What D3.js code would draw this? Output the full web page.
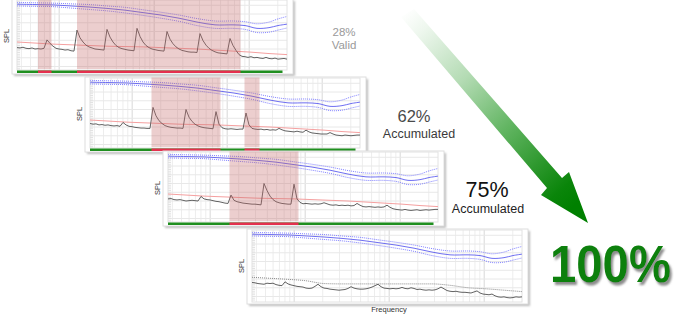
<!DOCTYPE html>
<html>
<head>
<meta charset="utf-8">
<script src="https://cdn.jsdelivr.net/npm/d3@7"></script>
<style>
  body { margin: 0; background: #fff; }
  svg { display: block; font-family: "Liberation Sans", Arial, sans-serif; }
</style>
</head>
<body>
<svg id="chart" width="700" height="326"></svg>
<script>
// ---- measurement data -------------------------------------------------
// Frequency span of every plot (Hz, log axis) and the sample index range.
const freqSpan = [36, 25000];
const sampleSpan = [0, 90];
const levelSpan = [0, 100];
const levelGrid = [5, 17.5, 30, 42.5, 55, 67.5, 80, 92.5];

// Response curve (blue): knots, with upper / lower bounds (dotted).
const respIdx = [0, 6, 12, 18, 24, 30, 36, 42, 48, 54, 60, 66, 72, 76, 80, 84, 87, 90];
const respMid = [94, 93.5, 93, 91.5, 90, 88, 85.5, 82, 78.5, 74, 68.5, 64.5, 64.5, 63.5, 59.5, 60.5, 63.5, 65.5];
const respHi  = [96.5, 96, 95.5, 94.5, 93.5, 91.5, 89.5, 86, 82.5, 78.5, 73.5, 70, 70, 69, 66, 68.5, 73, 76.5];
const respLo  = [91.5, 91, 90.5, 88.5, 86.5, 84.5, 81.5, 78, 74, 69.5, 63.5, 59.5, 59.5, 58, 53.5, 54, 57, 60];

// Noise threshold (pink) and the final reference (grey dotted).
const refIdx = [0, 6, 12, 18, 24, 30, 36, 42, 48, 54, 60, 66, 72, 78, 84, 90];
const threshold = [40, 38.5, 37, 36, 35, 34, 33.5, 33, 32, 31, 30, 28.5, 27, 25.5, 23.5, 22];
const finalRef = [32.5, 31, 29.5, 27.5, 23.5, 23, 23, 23, 23, 23, 23, 21, 17.5, 16, 14, 12];

// Background noise per pass (black), one value per sample.
const noisePass1 = [32, 31.5, 32.5, 31, 30.5, 31.5, 30, 30.5, 30, 31,
  43, 38, 34, 31, 30, 29.5, 28.5, 29, 27.5, 27,
  57, 46, 40, 35.5, 33, 31.5, 30, 29.5, 29, 28.5,
  58, 47, 40, 35, 32, 30.5, 29.5, 28.5, 28, 27.5,
  59.5, 48, 40, 35, 32, 30, 29, 28, 27.5, 27,
  55, 44, 37.5, 33, 30, 28, 27, 26, 25.5, 25.5, 25,
  52, 42, 35.5, 31, 28, 26, 24.5, 24, 23.5, 23,
  45, 35, 28, 22, 19.5, 19, 18, 19, 17.5, 18, 17, 16.5, 18, 16.5, 16, 17, 15.5, 16, 16.5, 15.5];
const noisePass2 = [35, 34, 34.5, 33, 33.5, 32.5, 33, 32, 31.5, 32, 31,
  36.5, 33, 31, 30.5, 29.5, 29, 28.5, 28.5, 28, 28,
  58, 46, 39, 35, 32, 30.5, 29.5, 29, 28.5, 28.5, 28,
  55, 44, 38, 34, 31.5, 30, 29, 28.5, 28, 27.5,
  52, 34, 29, 27.5, 27, 27.5, 27, 26.5, 27, 27,
  50, 33, 28, 27, 26.5, 27, 26, 26.5, 25.5, 26, 25.5, 28, 26, 24.5, 24, 23.5, 23, 24, 23, 22.5,
  25.5, 23, 21.5, 21, 20.5, 20, 20, 20, 22, 20, 18.5, 18, 17.5, 18.5, 18, 17.5, 18, 18.5, 18.5];
const noisePass3 = [33, 33.5, 32, 31.5, 32, 31, 30, 30.5, 31, 30.5, 30,
  36.5, 33, 32, 31.5, 30.5, 29.5, 29, 28, 27, 26.5,
  38.5, 31, 29, 28, 27, 26.5, 26, 25.5, 25.5, 25, 24.5,
  55, 45, 37, 32, 29, 27.5, 26.5, 26, 25.5, 25.5,
  54, 33, 28, 26, 26.5, 26, 25.5, 26, 25.5, 26,
  27.5, 26, 24.5, 24, 24.5, 23.5, 24, 23.5, 24, 23, 23.5, 26.5, 24, 22, 21.5, 22, 21.5, 21, 21.5, 21,
  21.5, 24, 21, 19, 18, 17.5, 17, 18, 17, 16.5, 17, 17.5, 16.5, 17, 17.5, 17, 17.5, 18, 18];
const noiseFinal = [25, 24.5, 23.5, 23, 22.5, 24, 23.5, 24, 22, 21, 20.5,
  26, 23, 21.5, 20.5, 19.5, 19, 18.5, 17, 16.5, 17,
  19.5, 22.5, 19, 17, 16.5, 15.5, 15, 14.5, 14, 14.5, 15,
  16.5, 19, 17, 16, 15.5, 15.5, 16, 17, 18.5, 20.5,
  22.5, 19, 17, 16.5, 16, 16.5, 16, 16.5, 18, 16.5,
  16, 17.5, 16.5, 15, 15.5, 14.5, 14, 14.5, 14, 14.5, 16, 18.5, 16, 13.5, 12.5, 12, 12.5, 11.5, 11, 11,
  10.5, 10, 11.5, 13, 10, 8.5, 8, 7.5, 8.5, 6, 4.5, 4, 4.5, 3.5, 3, 3.5, 4.5, 4, 4.5];

// Sample ranges flagged as disturbed in each pass.
const disturbed1 = [[7, 11.5], [20, 74.5]];
const disturbed2 = [[20.5, 43.5], [51.5, 56.5]];
const disturbed3 = [[20.5, 43.5]];
const flagSpan = [0, 88.5];

// Share of usable data after each pass.
const shareLabels = ["28%", "62%", "75%", "100%"];
const shareNotes = ["Valid", "Accumulated", "Accumulated", ""];

// ---- layout -----------------------------------------------------------
const svg = d3.select("#chart");
const boxW = 281, boxH = 75;

const panels = [
  { x: 12,  y: -1,  noise: noisePass1, ref: threshold, bad: disturbed1, flags: true },
  { x: 85,  y: 77,  noise: noisePass2, ref: threshold, bad: disturbed2, flags: true },
  { x: 163, y: 151, noise: noisePass3, ref: threshold, bad: disturbed3, flags: true },
  { x: 247, y: 229, noise: noiseFinal, ref: finalRef,  bad: [],         flags: false }
];

const xi = d3.scaleLinear().domain(sampleSpan).range([5, 275]);
const xf = d3.scaleLog().domain(freqSpan).range([5, 275]);
const y = d3.scaleLinear().domain(levelSpan).range([71, 1]);

const defs = svg.append("defs");
const blur = defs.append("filter").attr("id", "soft").attr("x", "-10%").attr("y", "-10%")
  .attr("width", "130%").attr("height", "140%");
blur.append("feGaussianBlur").attr("stdDeviation", 1);

panels.forEach(p => {
  const g = svg.append("g").attr("transform", `translate(${p.x},${p.y})`);
  const plotBottom = p.flags ? 71 : 73;

  // frame with drop shadow
  g.append("rect").attr("x", 2).attr("y", 2).attr("width", boxW).attr("height", boxH)
    .attr("fill", "#bdbdbd").attr("filter", "url(#soft)");
  g.append("rect").attr("width", boxW).attr("height", boxH)
    .attr("fill", "#fff").attr("stroke", "#dedede").attr("stroke-width", 1);

  // grid
  const fTicks = xf.ticks();
  g.append("g").selectAll("line").data(fTicks).join("line")
    .attr("x1", d => xf(d)).attr("x2", d => xf(d))
    .attr("y1", 1).attr("y2", plotBottom)
    .attr("stroke", d => Math.abs(Math.log10(d) % 1) < 1e-6 ? "#d8d8d8" : "#ededed")
    .attr("stroke-width", 1);
  g.append("g").selectAll("line").data(levelGrid).join("line")
    .attr("x1", 5).attr("x2", 275)
    .attr("y1", d => y(d)).attr("y2", d => y(d))
    .attr("stroke", "#e8e8e8");
  g.append("g").selectAll("line").data(d3.range(0, 100, 2.5)).join("line")
    .attr("x1", 5).attr("x2", 8)
    .attr("y1", d => y(d)).attr("y2", d => y(d))
    .attr("stroke", "#e2e2e2");
  g.append("rect").attr("x", 5).attr("y", 1).attr("width", 270).attr("height", plotBottom - 1)
    .attr("fill", "none").attr("stroke", "#e2e2e2");

  // response band
  const resp = arr => d3.line().curve(d3.curveCatmullRom)
    .x((d, i) => xi(respIdx[i])).y(d => y(d))(arr);
  g.append("path").attr("d", resp(respHi)).attr("fill", "none")
    .attr("stroke", "#8080ff").attr("stroke-width", 1).attr("stroke-dasharray", "1,1");
  g.append("path").attr("d", resp(respLo)).attr("fill", "none")
    .attr("stroke", "#8080ff").attr("stroke-width", 1).attr("stroke-dasharray", "1,1");
  g.append("path").attr("d", resp(respMid)).attr("fill", "none")
    .attr("stroke", "#5555ee").attr("stroke-width", 1).attr("stroke-opacity", 0.85);

  // threshold / reference
  const refLine = d3.line().curve(d3.curveMonotoneX)
    .x((d, i) => xi(refIdx[i])).y(d => y(d));
  g.append("path").attr("d", refLine(p.ref)).attr("fill", "none")
    .attr("stroke", p.flags ? "#f5a0a0" : "#8a8a8a")
    .attr("stroke-width", 1)
    .attr("stroke-dasharray", p.flags ? null : "1,1");

  // noise trace
  const noiseLine = d3.line().x((d, i) => xi(i)).y(d => y(d));
  g.append("path").attr("d", noiseLine(p.noise)).attr("fill", "none")
    .attr("stroke", "#505050").attr("stroke-width", 0.9);

  // disturbed regions, laid over the traces
  g.append("g").selectAll("rect").data(p.bad).join("rect")
    .attr("x", d => xi(d[0])).attr("width", d => xi(d[1]) - xi(d[0]))
    .attr("y", 0.5).attr("height", 69.5)
    .attr("fill", "#c46a6a").attr("fill-opacity", 0.33);

  // validity bar
  if (p.flags) {
    g.append("rect").attr("x", xi(flagSpan[0])).attr("width", xi(flagSpan[1]) - xi(flagSpan[0]))
      .attr("y", 71.5).attr("height", 2.5).attr("fill", "#1f8f1f");
    g.append("g").selectAll("rect").data(p.bad).join("rect")
      .attr("x", d => xi(d[0])).attr("width", d => xi(d[1]) - xi(d[0]))
      .attr("y", 71.5).attr("height", 2.5).attr("fill", "#e4304e");
  }

  // axis titles
  g.append("text").attr("transform", "translate(-3,37) rotate(-90)")
    .attr("text-anchor", "middle").attr("font-size", 7.5).attr("fill", "#333").text("SPL");
  if (!p.flags) {
    g.append("text").attr("x", 142).attr("y", 83).attr("text-anchor", "middle")
      .attr("font-size", 7.5).attr("fill", "#333").text("Frequency");
  }
});

// ---- progress arrow ---------------------------------------------------
const grad = defs.append("linearGradient").attr("id", "arrowFill")
  .attr("gradientUnits", "userSpaceOnUse")
  .attr("x1", 404).attr("y1", 12).attr("x2", 575).attr("y2", 205);
[[0, "#ffffff"], [0.1, "#eef7ee"], [0.35, "#b3dbb3"], [0.6, "#62b562"],
 [0.8, "#2a962a"], [0.92, "#0a850a"], [1, "#008000"]]
  .forEach(s => grad.append("stop").attr("offset", s[0]).attr("stop-color", s[1]));
svg.append("path")
  .attr("d", "M401,17 L414,9 L562,178 L569,172 L588,223 L541,195 L547,188 Z")
  .attr("fill", "url(#arrowFill)");

// ---- captions ---------------------------------------------------------
const cap = svg.append("g").attr("text-anchor", "middle");
cap.append("text").attr("x", 344).attr("y", 36).attr("font-size", 11.5).attr("fill", "#9a9a9a").text(shareLabels[0]);
cap.append("text").attr("x", 344).attr("y", 49).attr("font-size", 11.5).attr("fill", "#9a9a9a").text(shareNotes[0]);
cap.append("text").attr("x", 414).attr("y", 121.5).attr("font-size", 16.5).attr("fill", "#4a4a4a").text(shareLabels[1]);
cap.append("text").attr("x", 419).attr("y", 138).attr("font-size", 12.5).attr("fill", "#3a3a3a").text(shareNotes[1]);
cap.append("text").attr("x", 487).attr("y", 197).attr("font-size", 21.5).attr("fill", "#111").text(shareLabels[2]);
cap.append("text").attr("x", 488).attr("y", 213).attr("font-size", 12.5).attr("fill", "#222").text(shareNotes[2]);

// headline with a soft grey drop shadow
const shadow = defs.append("filter").attr("id", "textShadow")
  .attr("x", "-10%").attr("y", "-10%").attr("width", "130%").attr("height", "140%");
shadow.append("feDropShadow").attr("dx", 2).attr("dy", 3).attr("stdDeviation", 1.2)
  .attr("flood-color", "#808080").attr("flood-opacity", 0.9);
svg.append("text").attr("x", 550).attr("y", 282).attr("font-size", 51).attr("font-weight", "bold")
  .attr("textLength", 121).attr("lengthAdjust", "spacingAndGlyphs")
  .attr("fill", "#0a800a").attr("filter", "url(#textShadow)").text(shareLabels[3]);
</script>
</body>
</html>
